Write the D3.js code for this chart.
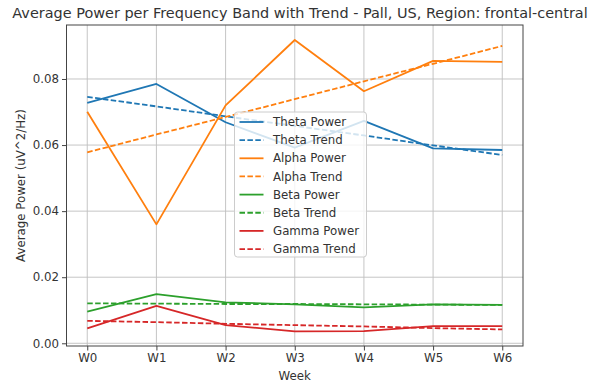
<!DOCTYPE html>
<html lang="en">
<head>
<meta charset="utf-8">
<title>Average Power per Frequency Band</title>
<style>
  body { margin: 0; background: #fff; }
  svg { display: block; font-family: "DejaVu Sans", sans-serif; }
</style>
</head>
<body>
<script src="https://cdn.jsdelivr.net/npm/d3@7"></script>
<script>
// data
const weeks = ["W0", "W1", "W2", "W3", "W4", "W5", "W6"];
const yTicks = [0.00, 0.02, 0.04, 0.06, 0.08];

const thetaPower = [0.0728, 0.0785, 0.0669, 0.0592, 0.0673, 0.0590, 0.0585];
const thetaTrend = [0.0746, 0.0717, 0.0687, 0.0658, 0.0629, 0.0599, 0.0570];
const alphaPower = [0.0701, 0.0360, 0.0720, 0.0918, 0.0763, 0.0855, 0.0852];
const alphaTrend = [0.0578, 0.0632, 0.0685, 0.0739, 0.0793, 0.0846, 0.0900];
const betaPower  = [0.0096, 0.0149, 0.0124, 0.0118, 0.0109, 0.0118, 0.0116];
const betaTrend  = [0.0121, 0.0120, 0.0119, 0.0119, 0.0118, 0.0117, 0.0116];
const gammaPower = [0.0045, 0.0113, 0.0055, 0.0036, 0.0037, 0.0052, 0.0052];
const gammaTrend = [0.0068, 0.0064, 0.0059, 0.0055, 0.0051, 0.0046, 0.0042];

const series = [
  { name: "Theta Power", values: thetaPower, color: "#1f77b4", dash: null },
  { name: "Theta Trend", values: thetaTrend, color: "#1f77b4", dash: "5.5,2.4" },
  { name: "Alpha Power", values: alphaPower, color: "#ff7f0e", dash: null },
  { name: "Alpha Trend", values: alphaTrend, color: "#ff7f0e", dash: "5.5,2.4" },
  { name: "Beta Power",  values: betaPower,  color: "#2ca02c", dash: null },
  { name: "Beta Trend",  values: betaTrend,  color: "#2ca02c", dash: "5.5,2.4" },
  { name: "Gamma Power", values: gammaPower, color: "#d62728", dash: null },
  { name: "Gamma Trend", values: gammaTrend, color: "#d62728", dash: "5.5,2.4" },
];

const W = 594, H = 383;
const mLeft = 66.5, mRight = 523, mTop = 25, mBottom = 346;

const svg = d3.select("body").append("svg")
  .attr("width", W).attr("height", H);

const x = d3.scaleLinear().domain([-0.3, 6.3]).range([mLeft, mRight]);
const y = d3.scaleLinear().domain([-0.00082, 0.09634]).range([mBottom, mTop]);

// grid
const grid = svg.append("g").attr("stroke", "#b0b0b0").attr("stroke-width", 0.9).attr("opacity", 0.8);
weeks.forEach((w, i) => {
  grid.append("line").attr("x1", x(i)).attr("x2", x(i)).attr("y1", mTop).attr("y2", mBottom);
});
yTicks.forEach(v => {
  grid.append("line").attr("x1", mLeft).attr("x2", mRight).attr("y1", y(v)).attr("y2", y(v));
});

// lines
const line = d3.line().x((d, i) => x(i)).y(d => y(d));
svg.append("g").selectAll("path")
  .data(series)
  .join("path")
  .attr("d", d => line(d.values))
  .attr("fill", "none")
  .attr("stroke", d => d.color)
  .attr("stroke-width", 1.8)
  .attr("stroke-dasharray", d => d.dash)
  .attr("stroke-linejoin", "round");

// axes
const xAxis = d3.axisBottom(x).tickValues(d3.range(weeks.length))
  .tickFormat(i => weeks[i]).tickSize(4.5).tickPadding(3);
const yAxis = d3.axisLeft(y).tickValues(yTicks)
  .tickFormat(d3.format(".2f")).tickSize(4.5).tickPadding(3);

const gx = svg.append("g").attr("transform", `translate(0,${mBottom})`).call(xAxis);
const gy = svg.append("g").attr("transform", `translate(${mLeft},0)`).call(yAxis);
[gx, gy].forEach(g => {
  g.select(".domain").remove();
  g.selectAll(".tick line").attr("stroke", "#444");
  g.selectAll(".tick text").attr("fill", "#333").style("font-size", "11.8px")
    .style("font-family", "DejaVu Sans, sans-serif");
});

// frame
svg.append("rect")
  .attr("x", mLeft).attr("y", mTop)
  .attr("width", mRight - mLeft).attr("height", mBottom - mTop)
  .attr("fill", "none").attr("stroke", "#444").attr("stroke-width", 1);

// labels
svg.append("text")
  .attr("x", 300).attr("y", 18)
  .attr("text-anchor", "middle")
  .style("font-size", "14.45px").attr("fill", "#333")
  .text("Average Power per Frequency Band with Trend - Pall, US, Region: frontal-central");

svg.append("text")
  .attr("x", (mLeft + mRight) / 2).attr("y", 380)
  .attr("text-anchor", "middle")
  .style("font-size", "11.8px").attr("fill", "#333")
  .text("Week");

svg.append("text")
  .attr("transform", `translate(25,${(mTop + mBottom) / 2}) rotate(-90)`)
  .attr("text-anchor", "middle")
  .style("font-size", "11.8px").attr("fill", "#333")
  .text("Average Power (uV^2/Hz)");

// legend
const lg = svg.append("g").attr("transform", "translate(234.5,112)");
lg.append("rect")
  .attr("width", 132).attr("height", 145).attr("rx", 3)
  .attr("fill", "#fff").attr("fill-opacity", 0.8)
  .attr("stroke", "#ccc").attr("stroke-width", 1);

const item = lg.selectAll("g.item")
  .data(series)
  .join("g")
  .attr("class", "item")
  .attr("transform", (d, i) => `translate(0,${10 + i * 18.15})`);

item.append("line")
  .attr("x1", 5).attr("x2", 29)
  .attr("stroke", d => d.color)
  .attr("stroke-width", 1.8)
  .attr("stroke-dasharray", d => d.dash);

item.append("text")
  .attr("x", 38.5).attr("dy", "0.35em")
  .style("font-size", "11.8px").attr("fill", "#333")
  .text(d => d.name);
</script>
</body>
</html>
